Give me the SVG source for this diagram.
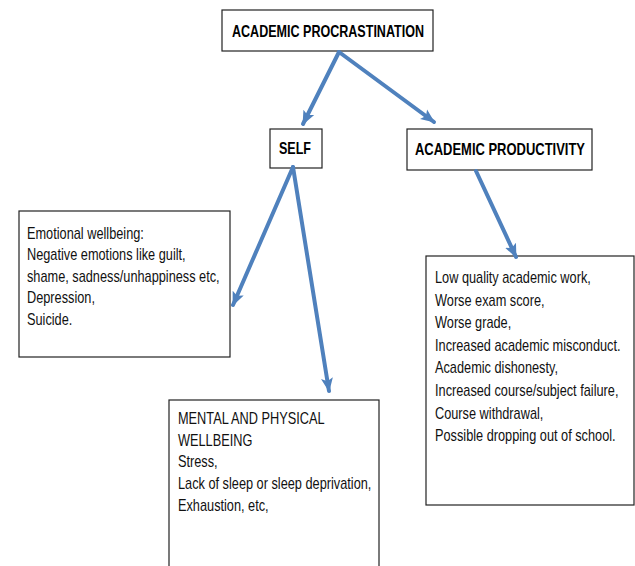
<svg xmlns="http://www.w3.org/2000/svg" width="635" height="566" viewBox="0 0 635 566">
<style>
.box{fill:#fff;stroke:#222;stroke-width:1.2}
.hd{font-family:"Liberation Sans",Arial,sans-serif;font-weight:bold;font-size:16.5px;fill:#000}
.bd{font-family:"Liberation Sans",Arial,sans-serif;font-size:17px;fill:#111}
.arr{stroke:#4F81BD;stroke-width:4;fill:none;stroke-linecap:round}
</style>
<defs>
<marker id="ah" markerUnits="userSpaceOnUse" markerWidth="16" markerHeight="14" refX="13" refY="7" orient="auto">
<path d="M0,1 L14,7 L0,13 L3,7 Z" fill="#4F81BD"/>
</marker>
</defs>
<rect width="635" height="566" fill="#fff"/>
<g id="n-proc">
<rect class="box" x="222" y="10" width="211" height="41"/>
<text class="hd" x="232" y="37" textLength="192" lengthAdjust="spacingAndGlyphs">ACADEMIC PROCRASTINATION</text>
</g>
<g id="n-self">
<rect class="box" x="270" y="129" width="52" height="39"/>
<text class="hd" x="279" y="154" textLength="32" lengthAdjust="spacingAndGlyphs">SELF</text>
</g>
<g id="n-prod">
<rect class="box" x="407" y="129" width="185" height="41"/>
<text class="hd" x="415" y="154.5" textLength="170" lengthAdjust="spacingAndGlyphs">ACADEMIC PRODUCTIVITY</text>
</g>
<g id="n-emo">
<rect class="box" x="19" y="211" width="211" height="146"/>
<g transform="translate(27,0) scale(0.75,1)">
<text class="bd" x="0" y="239">Emotional wellbeing:</text>
<text class="bd" x="0" y="260.5">Negative emotions like guilt,</text>
<text class="bd" x="0" y="282">shame, sadness/unhappiness etc,</text>
<text class="bd" x="0" y="303.5">Depression,</text>
<text class="bd" x="0" y="325">Suicide.</text>
</g>
</g>
<g id="n-mental">
<rect class="box" x="169" y="400" width="210" height="180"/>
<g transform="translate(178,0) scale(0.75,1)">
<text class="bd" x="0" y="424">MENTAL AND PHYSICAL</text>
<text class="bd" x="0" y="445.7">WELLBEING</text>
<text class="bd" x="0" y="467.4">Stress,</text>
<text class="bd" x="0" y="489">Lack of sleep or sleep deprivation,</text>
<text class="bd" x="0" y="510.8">Exhaustion, etc,</text>
</g>
</g>
<g id="n-acad">
<rect class="box" x="426" y="256" width="208" height="249"/>
<g transform="translate(435,0) scale(0.75,1)">
<text class="bd" x="0" y="283">Low quality academic work,</text>
<text class="bd" x="0" y="305.6">Worse exam score,</text>
<text class="bd" x="0" y="328.2">Worse grade,</text>
<text class="bd" x="0" y="350.8">Increased academic misconduct.</text>
<text class="bd" x="0" y="373.4">Academic dishonesty,</text>
<text class="bd" x="0" y="396">Increased course/subject failure,</text>
<text class="bd" x="0" y="418.6">Course withdrawal,</text>
<text class="bd" x="0" y="441.2">Possible dropping out of school.</text>
</g>
</g>
<g id="connectors">
<line class="arr" x1="339" y1="52" x2="303" y2="124" marker-end="url(#ah)"/>
<line class="arr" x1="339" y1="52" x2="434" y2="122" marker-end="url(#ah)"/>
<line class="arr" x1="293" y1="167" x2="233" y2="305" marker-end="url(#ah)"/>
<line class="arr" x1="293" y1="167" x2="329" y2="391" marker-end="url(#ah)"/>
<line class="arr" x1="476" y1="171" x2="516" y2="257" marker-end="url(#ah)"/>
</g>
</svg>
